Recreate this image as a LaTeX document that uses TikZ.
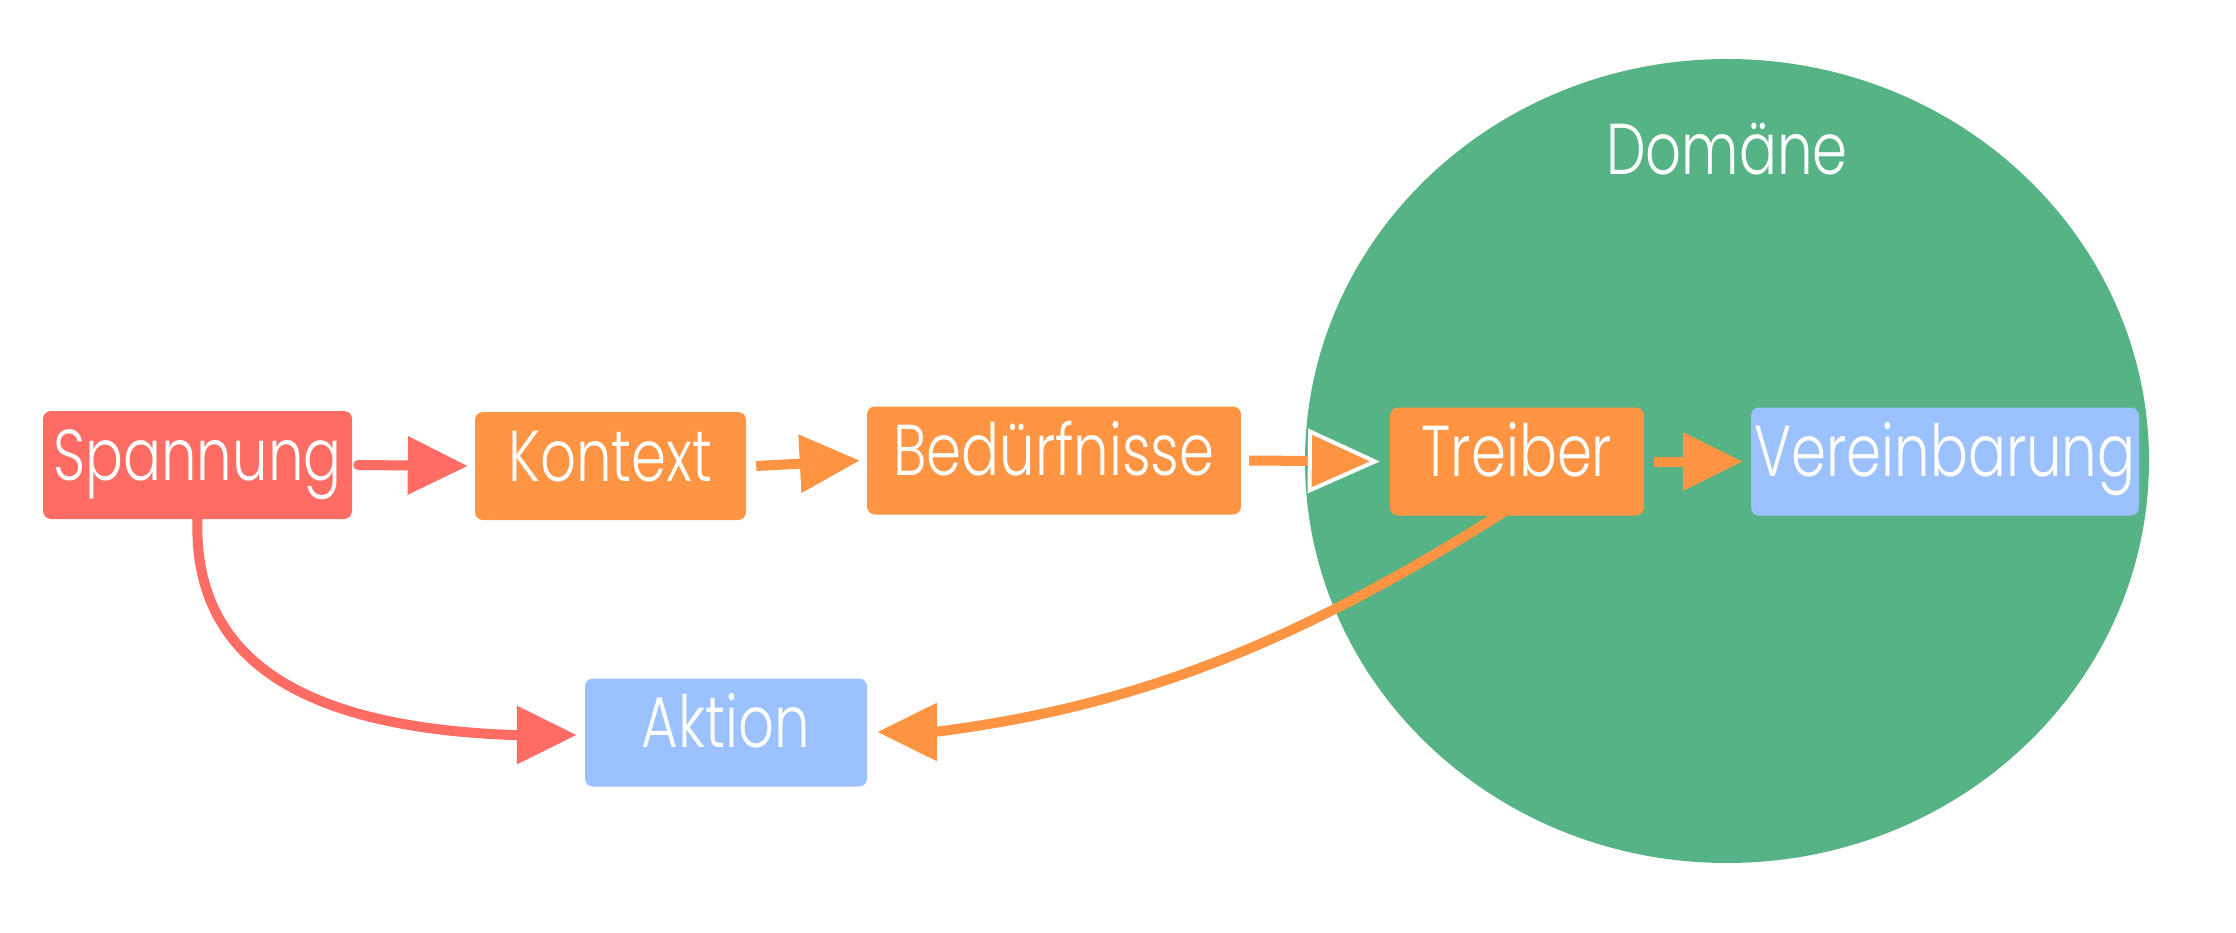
\documentclass[tikz,border=0pt]{standalone}
\usepackage{fontspec}
\setmainfont{Poppins Light}[FakeStretch=0.78]
\usetikzlibrary{arrows.meta,shapes.geometric}
\definecolor{cred}{HTML}{FF6C63}
\definecolor{corange}{HTML}{FF9443}
\definecolor{cblue}{HTML}{9CC1FF}
\definecolor{cgreen}{HTML}{56B385}
\begin{document}
\begin{tikzpicture}[x=1pt,y=-1pt,
  box/.style={rounded corners=8pt, text=white, font=\fontsize{72}{72}\selectfont,
    inner sep=0pt, minimum height=108pt, text height=50pt, text depth=20pt},
  conn/.style={line width=10pt},
  bigtip/.style={-{Triangle[length=60pt,width=56pt]}},
  outtip/.style={-{Triangle[length=72pt,width=64pt,fill=corange,color=white,line width=4pt]}}
]
\useasboundingbox (0,0) rectangle (2236,933);
\node[ellipse, fill=cgreen, inner sep=0pt, minimum width=844pt, minimum height=804pt] (dom) at (1727,461) {};
\node[text=white, font=\fontsize{72}{72}\selectfont, anchor=base] (domlabel) at (1727,175) {Domäne};

\node[box, fill=cred, minimum width=309pt] (sp) at (197.5,465) {Spannung};
\node[box, fill=corange, minimum width=271pt] (ko) at (610.5,466) {Kontext};
\node[box, fill=corange, minimum width=374pt] (be) at (1054,460.5) {Bedürfnisse};
\node[box, fill=corange, minimum width=254pt] (tr) at (1517,461.5) {Treiber};
\node[box, fill=cblue, minimum width=388pt] (ve) at (1945,461.5) {Vereinbarung};
\node[box, fill=cblue, minimum width=282pt] (ak) at (726,732.5) {Aktion};

\draw[conn, cred, bigtip, line cap=round] ([xshift=6pt]sp.east) -- ([xshift=-7pt]ko.west);
\draw[conn, corange, bigtip] ([xshift=10pt]ko.east) -- ([xshift=-7pt]be.west);
\draw[conn, corange, outtip] ([xshift=8pt]be.east) -- ([xshift=-10pt]tr.west);
\draw[conn, corange, bigtip] ([xshift=10pt]tr.east) -- ([xshift=-8pt]ve.west);

\draw[conn, cred, bigtip] ([yshift=1pt]sp.south) .. controls +(-5,140) and +(-212,-8) .. ([xshift=-73pt,yshift=-2.5pt]ak.west) -- ([xshift=-8pt,yshift=-2.5pt]ak.west);
\draw[conn, corange, bigtip] ([xshift=-5pt,yshift=9pt]tr.south) .. controls +(-212,136) and +(200,-25) .. ([xshift=67pt,yshift=0.5pt]ak.east) -- ([xshift=10pt,yshift=0.5pt]ak.east);
\end{tikzpicture}
\end{document}
